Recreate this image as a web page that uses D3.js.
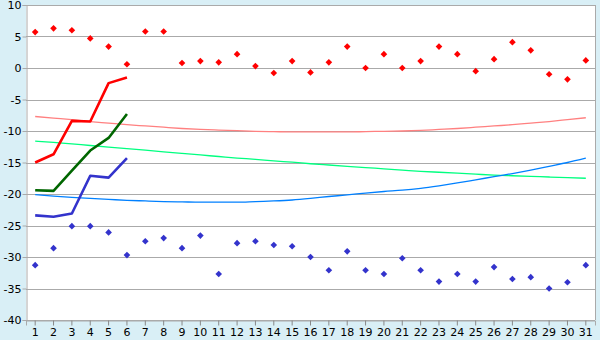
<!DOCTYPE html>
<html>
<head>
<meta charset="utf-8">
<script src="https://cdn.jsdelivr.net/npm/d3@7"></script>
<style>
  html, body { margin: 0; padding: 0; background: #d9eff6; }
  svg { display: block; }
  text { font-family: "DejaVu Sans", Verdana, sans-serif; font-size: 11px; fill: #000; }
</style>
</head>
<body>
<div id="chart"></div>
<script>
var days = d3.range(1, 32);
var yTicks = [-40, -35, -30, -25, -20, -15, -10, -5, 0, 5, 10];

// points (daily max / min)
var redPoints = [5.7, 6.3, 6.0, 4.7, 3.4, 0.6, 5.8, 5.8, 0.8, 1.1, 0.9, 2.2, 0.3, -0.8, 1.1, -0.7,
    0.9, 3.4, 0.0, 2.2, 0.0, 1.1, 3.4, 2.2, -0.5, 1.4, 4.1, 2.8, -1.0, -1.8, 1.2];
var bluePoints = [-31.3, -28.6, -25.1, -25.1, -26.1, -29.7, -27.5, -27.0, -28.6, -26.6, -32.7, -27.8,
    -27.5, -28.1, -28.3, -30.0, -32.1, -29.1, -32.1, -32.7, -30.2, -32.1, -33.9, -32.7, -33.9, -31.6,
    -33.5, -33.2, -35.0, -34.0, -31.3];

// thick lines, days 1..6
var redLine = [-15.0, -13.7, -8.4, -8.5, -2.4, -1.5];
var greenLine = [-19.4, -19.5, -16.3, -13.1, -11.1, -7.3];
var blueLine = [-23.4, -23.6, -23.1, -17.1, -17.4, -14.3];

// trend curves
var pinkTrend = [-7.7, -7.95, -8.2, -8.5, -8.75, -9.0, -9.2, -9.4, -9.6, -9.75, -9.85, -9.95, -10.05,
    -10.1, -10.15, -10.15, -10.15, -10.15, -10.1, -10.05, -10.0, -9.9, -9.75, -9.6, -9.4, -9.2, -9.0,
    -8.75, -8.5, -8.2, -7.9];
var greenTrend = [-11.6, -11.8, -12.05, -12.3, -12.55, -12.8, -13.05, -13.3, -13.55, -13.8, -14.05,
    -14.3, -14.5, -14.75, -14.95, -15.2, -15.4, -15.6, -15.8, -16.0, -16.2, -16.4, -16.55, -16.7,
    -16.85, -17.0, -17.1, -17.2, -17.3, -17.4, -17.5];
var blueTrend = [-20.1, -20.35, -20.55, -20.7, -20.85, -21.0, -21.1, -21.2, -21.25, -21.3, -21.3,
    -21.3, -21.2, -21.1, -20.95, -20.7, -20.4, -20.15, -19.85, -19.6, -19.4, -19.1, -18.7, -18.25,
    -17.75, -17.25, -16.75, -16.2, -15.6, -15.0, -14.3];

var width = 600, height = 340;
var plotLeft = 26, plotRight = 595, plotTop = 5, plotBottom = 320;

var svg = d3.select("#chart").append("svg")
    .attr("width", width)
    .attr("height", height);

var x = d3.scaleBand()
    .domain(days)
    .range([plotLeft, plotRight])
    .padding(0);

var y = d3.scaleLinear()
    .domain([-40, 10])
    .range([plotBottom, plotTop]);

function cx(d) {
    return x(d) + x.bandwidth() / 2;
}

// plot area
svg.append("rect")
    .attr("x", plotLeft)
    .attr("y", plotTop)
    .attr("width", plotRight - plotLeft)
    .attr("height", plotBottom - plotTop)
    .attr("fill", "#fff");

// grid lines
svg.append("g")
    .selectAll("line")
    .data(yTicks)
    .join("line")
    .attr("x1", plotLeft)
    .attr("x2", plotRight)
    .attr("y1", function(d) { return Math.round(y(d)) + 0.5; })
    .attr("y2", function(d) { return Math.round(y(d)) + 0.5; })
    .attr("stroke", "#aaa")
    .attr("stroke-width", 1);

// right border
svg.append("line")
    .attr("x1", plotRight + 0.5).attr("x2", plotRight + 0.5)
    .attr("y1", plotTop).attr("y2", plotBottom)
    .attr("stroke", "#aaa");

// y axis
var yAxis = svg.append("g")
    .attr("transform", "translate(" + (plotLeft + 0.5) + ",0)")
    .call(d3.axisLeft(y).tickValues(yTicks).tickSize(4).tickPadding(1)
        .tickFormat(function(d) { return d < 0 ? "-" + Math.abs(d) : d; }));
yAxis.select(".domain").attr("stroke", "#aaa");
yAxis.selectAll(".tick line").attr("stroke", "#aaa");
yAxis.selectAll("text").attr("font-size", 11).attr("font-family", "DejaVu Sans").attr("fill", "#000");

// x axis
var xAxis = svg.append("g")
    .attr("transform", "translate(0," + (plotBottom + 0.5) + ")")
    .call(d3.axisBottom(x).tickSize(5).tickPadding(3));
xAxis.select(".domain").attr("stroke", "#aaa");
xAxis.selectAll(".tick line").attr("stroke", "#888");
xAxis.selectAll("text").attr("font-size", 11).attr("font-family", "DejaVu Sans").attr("fill", "#000");

// trend curves
function drawLine(values, color, w) {
    var line = d3.line()
        .x(function(d, i) { return cx(days[i]); })
        .y(function(d) { return y(d); })
        .curve(d3.curveMonotoneX);
    svg.append("path")
        .datum(values)
        .attr("d", line)
        .attr("fill", "none")
        .attr("stroke", color)
        .attr("stroke-width", w)
        .attr("stroke-linejoin", "round");
}

drawLine(pinkTrend, "#ff8080", 1.3);
drawLine(greenTrend, "#00ff80", 1.3);
drawLine(blueTrend, "#0080ff", 1.3);

function drawThick(values, color) {
    var line = d3.line()
        .x(function(d, i) { return cx(days[i]); })
        .y(function(d) { return y(d); });
    svg.append("path")
        .datum(values)
        .attr("d", line)
        .attr("fill", "none")
        .attr("stroke", color)
        .attr("stroke-width", 2.6)
        .attr("stroke-linejoin", "round");
}

drawThick(redLine, "#ff0000");
drawThick(greenLine, "#006600");
drawThick(blueLine, "#3333cc");

// point markers (small diamonds)
function drawPoints(values, color) {
    svg.append("g")
        .selectAll("path")
        .data(values)
        .join("path")
        .attr("transform", function(d, i) {
            return "translate(" + cx(days[i]) + "," + y(d) + ") rotate(45)";
        })
        .attr("d", d3.symbol().type(d3.symbolSquare).size(22))
        .attr("fill", color);
}

drawPoints(redPoints, "#ff0000");
drawPoints(bluePoints, "#3333cc");
</script>
</body>
</html>
